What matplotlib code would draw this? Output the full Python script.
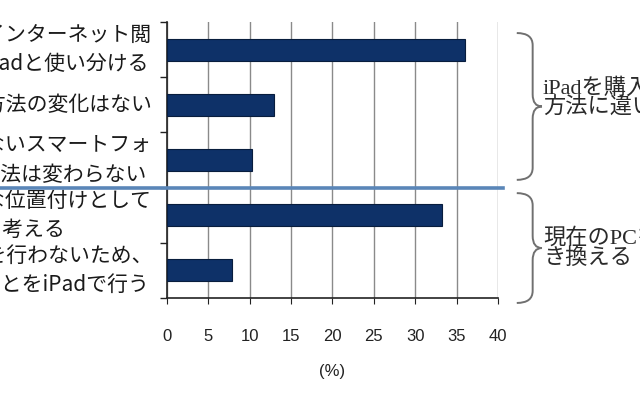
import numpy as np
import matplotlib
matplotlib.use("Agg")
import matplotlib.pyplot as plt
import matplotlib.transforms as mtransforms
from matplotlib.path import Path
from matplotlib.patches import PathPatch

# answers (left side, wrapped the way the source chart wraps them)
labels = [
    "PC等でのインターネット閲\n覧方法をiPadと使い分ける",
    "インターネット閲覧方法の変化はない",
    "PCでもできないスマートフォ\nンでの利用方法は変わらない",
    "PCの補助的な位置付けとして\niPadの利用を考える",
    "PC の買い替えを行わないため、\nPCでしていたことをiPadで行う",
]
values = [36.0, 12.9, 10.3, 33.3, 7.9]
xticks = [0, 5, 10, 15, 20, 25, 30, 35, 40]

# groups shown with braces on the right
group_text = [
    "iPadを購入後、インターネット閲覧\n方法に違いが生じる",
    "現在のPCをiPadに置\nき換える",
]
group_rows = [(0, 2), (3, 4)]

fig = plt.figure(figsize=(6.4, 4), dpi=100)
ax = fig.add_axes([0.261, 0.255, 0.517, 0.69])

y = np.arange(len(values))
ax.barh(y, values, height=0.4, color="#0e3168", edgecolor="#081d3d",
        linewidth=0.8, zorder=3)
ax.set_xlim(0, 40)
ax.set_ylim(len(values) - 0.5, -0.5)
ax.set_xticks(xticks)
ax.grid(axis="x", color="#8a8a8a", linewidth=1.0, zorder=1)

ax.set_yticks([])
ax.set_yticks(np.arange(-0.5, len(values)), minor=True)
ax.tick_params(axis="y", which="minor", length=5, color="#222", width=1)
ax.tick_params(axis="x", length=4, color="#222", pad=18, labelsize=12,
               labelcolor="#222")
for t in ax.get_xticklabels():
    t.set_family("Liberation Sans")
for s in ["top", "right"]:
    ax.spines[s].set_visible(False)
for s in ["left", "bottom"]:
    ax.spines[s].set_color("#222")
    ax.spines[s].set_linewidth(1.2)

ax.set_xlabel("(%)", fontsize=12, family="Liberation Sans", labelpad=15,
              color="#222")

blend = mtransforms.blended_transform_factory(ax.transAxes, ax.transData)

for i, lab in enumerate(labels):
    ax.text(-0.045, i, lab, transform=blend, ha="right", va="center",
            multialignment="left", fontsize=15, linespacing=1.42,
            family=["Noto Sans CJK JP", "DejaVu Sans"], color="#1a1a1a")

# blue line splitting the two groups
split = group_rows[0][1] + 0.5
ax.plot([-0.6, 1.016], [split, split], transform=blend, color="#5a86b8",
        lw=2.6, clip_on=False, zorder=5)


def brace(x0, xm, x1, ytop, ybot, ytip, r=0.22):
    verts = [(x0, ytop), (xm, ytop), (xm, ytop + r),
             (xm, ytip - r), (xm, ytip), (x1, ytip),
             (xm, ytip), (xm, ytip + r),
             (xm, ybot - r), (xm, ybot), (x0, ybot)]
    codes = [Path.MOVETO, Path.CURVE3, Path.CURVE3,
             Path.LINETO, Path.CURVE3, Path.CURVE3,
             Path.CURVE3, Path.CURVE3,
             Path.LINETO, Path.CURVE3, Path.CURVE3]
    ax.add_patch(PathPatch(Path(verts, codes), transform=blend, fill=False,
                           edgecolor="#707070", lw=1.4, clip_on=False))


brace_span = [(-0.3, 2.36), (2.6, 4.59)]
text_y = [0.88, 3.6]
for (top, bot), ty, txt in zip(brace_span, text_y, group_text):
    brace(1.057, 1.105, 1.133, top, bot, (top + bot) / 2)
    ax.text(1.136, ty, txt, transform=blend, ha="left", va="center",
            fontsize=16, linespacing=0.95,
            family=["Liberation Serif", "Noto Sans CJK JP"], color="#2a2a2a")

fig.savefig("out.png", dpi=100)
